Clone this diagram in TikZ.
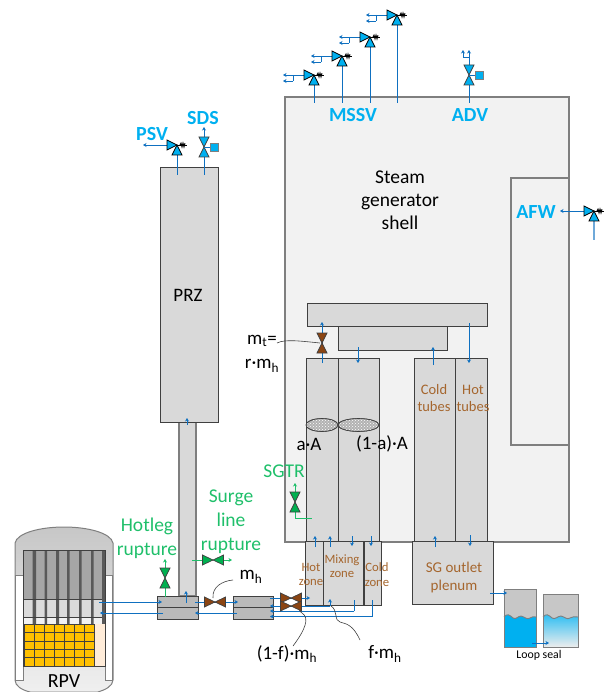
\documentclass[tikz,border=0pt]{standalone}
\usepackage{fontspec}
\setmainfont{Carlito}
\usetikzlibrary{arrows.meta,patterns,calc}
\definecolor{flow}{HTML}{0F70C0}
\definecolor{vblue}{HTML}{00B0F0}
\definecolor{vgreen}{HTML}{00B050}
\definecolor{tgreen}{HTML}{1FBF6A}
\definecolor{vbrown}{HTML}{8B4513}
\definecolor{tbrown}{HTML}{A5662E}
\definecolor{shellfill}{HTML}{F2F2F2}
\definecolor{boxfill}{HTML}{D9D9D9}
\definecolor{edgedark}{HTML}{404040}
\definecolor{edgegray}{HTML}{7F7F7F}
\definecolor{fuel}{HTML}{FFC000}
\tikzset{
  flowline/.style={draw=flow,line width=0.9pt},
  flowarr/.style={flowline,-{Stealth[length=3.5pt,width=4pt]}},
  greenarr/.style={draw=tgreen,line width=0.9pt,-{Stealth[length=3.5pt,width=4pt]}},
  greenline/.style={draw=tgreen,line width=0.9pt},
  graybox/.style={fill=boxfill,draw=edgedark,line width=0.8pt},
  legbox/.style={fill=black!27,draw=edgedark,line width=0.8pt},
  shellbox/.style={fill=shellfill,draw=edgegray,line width=1.1pt},
  lead/.style={draw=edgedark,line width=0.6pt},
  lbl/.style={inner sep=0pt,align=center,font=\fontsize{19}{23}\selectfont,text=black},
  blbl/.style={inner sep=0pt,font=\fontsize{20}{24}\selectfont\bfseries,text=vblue},
  glbl/.style={inner sep=0pt,align=center,font=\fontsize{19.5}{24}\selectfont,text=tgreen},
  zlbl/.style={inner sep=0pt,align=center,font=\fontsize{12.7}{14.5}\selectfont,text=tbrown},
  tube/.style={inner sep=0pt,align=center,font=\fontsize{14.5}{17}\selectfont,text=tbrown},
}
% vertical valve: center, colour
\newcommand{\vvalve}[2]{%
  \filldraw[fill=#2,draw=edgedark,line width=0.7pt] ($(#1)+(-5,-10)$)--($(#1)+(5,-10)$)--(#1)--cycle;
  \filldraw[fill=#2,draw=edgedark,line width=0.7pt] ($(#1)+(-5,10)$)--($(#1)+(5,10)$)--(#1)--cycle;}
\newcommand{\hvalve}[2]{%
  \filldraw[fill=#2,draw=edgedark,line width=0.7pt] ($(#1)+(-10.5,-5)$)--($(#1)+(-10.5,5)$)--(#1)--cycle;
  \filldraw[fill=#2,draw=edgedark,line width=0.7pt] ($(#1)+(10.5,-5)$)--($(#1)+(10.5,5)$)--(#1)--cycle;}
% safety valve: centre
\newcommand{\svalve}[1]{%
  \draw[black,line width=0.7pt] (#1)--($(#1)+(10,0)$);
  \draw[black,line width=1pt] ($(#1)+(3,0)$)--($(#1)+(4,-1.8)$)--($(#1)+(5,1.8)$)--($(#1)+(6,-1.8)$)--($(#1)+(7,1.8)$)--($(#1)+(8,-1.8)$);
  \filldraw[fill=vblue,draw=black,line width=0.7pt] ($(#1)+(-10,-5)$)--($(#1)+(-10,5)$)--(#1)--cycle;
  \filldraw[fill=vblue,draw=black,line width=0.7pt] ($(#1)+(-5,10)$)--($(#1)+(5,10)$)--(#1)--cycle;}
\newcommand{\mssv}[1]{%
  \coordinate (vc) at (#1);
  \coordinate (stemy) at (0,103);
  \draw[flowline] ($(#1)+(0,10)$)--(vc|-stemy);
  \draw[flowarr] ($(#1)+(-10,0)$)--($(#1)+(-31,0)$);
  \draw[flowline] ($(#1)+(-21,0)$)--($(#1)+(-21,6)$);
  \draw[flowarr] ($(#1)+(-21,6)$)--($(#1)+(-31,6)$);
  \svalve{#1}}
\begin{document}
\begin{tikzpicture}[x=1pt,y=-1pt]
\useasboundingbox (0,0) rectangle (604,692);
% ---------- Steam generator
\draw[shellbox] (285,97) rectangle (569,542);
\draw[shellbox] (511,178) rectangle (569,445);
\draw[graybox] (307,303) rectangle (487,326.5);
\draw[graybox] (338,326.5) rectangle (447,350);
\draw[graybox] (306,358) rectangle (338,541);
\draw[graybox] (338,358) rectangle (379,541);
\draw[graybox] (414,358) rectangle (455,541);
\draw[graybox] (455,358) rectangle (487,541);
\draw[fill=black!30,draw=edgedark,line width=0.6pt] (322,425) ellipse (16 and 6.5);
\draw[pattern=crosshatch dots,pattern color=white,draw=edgedark,line width=0.6pt] (322,425) ellipse (16 and 6.5);
\draw[fill=black!30,draw=edgedark,line width=0.6pt] (358.5,425) ellipse (20.5 and 6.5);
\draw[pattern=crosshatch dots,pattern color=white,draw=edgedark,line width=0.6pt] (358.5,425) ellipse (20.5 and 6.5);
% ---------- Zones and plenum
\draw[graybox] (305,541) rectangle (323,605);
\draw[graybox] (323,541) rectangle (363,605);
\draw[graybox] (364,541) rectangle (381,605);
\draw[graybox] (412,541) rectangle (493,604);
% ---------- PRZ and surge line
\draw[fill=boxfill,draw=edgegray,line width=1.2pt] (179,422) rectangle (196,596);
\draw[graybox] (160,167) rectangle (218,422);
\draw[legbox] (157,596) rectangle (198,619);
\draw[edgedark,line width=0.8pt] (157,607.5)--(198,607.5);
\draw[legbox] (233,596) rectangle (273,619);
\draw[edgedark,line width=0.8pt] (233,607.5)--(273,607.5);
% ---------- RPV
\path[draw=edgegray,line width=1pt,top color=black!22,bottom color=black!6]
  (15,680) -- (15,543) .. controls (17,533) and (40,527) .. (64,527) .. controls (88,527) and (111,533) .. (113,543)
  -- (113,680) .. controls (113,686) and (105,690) .. (98,692) -- (30,692) .. controls (22,690) and (15,686) .. (15,680) -- cycle;
\draw[fill=white,draw=edgegray,line width=0.8pt] (15.5,575) rectangle (23,680);
\draw[fill=white,draw=edgegray,line width=0.8pt] (105,575) rectangle (112.5,680);
\fill[black!35] (23,550) rectangle (105,599);
\fill[black!14] (23,599) rectangle (105,617);
\fill[black!5] (23,617) rectangle (105,624);
\fill[black!65] (32.5,550) rectangle (36,624) (44.5,550) rectangle (47,624) (56,550) rectangle (59,624)
  (67,550) rectangle (69.5,624) (79,550) rectangle (81.5,624) (91,550) rectangle (93.5,624);
\draw[edgedark,line width=0.6pt] (23,599)--(105,599) (23,617)--(105,617);
\fill[black!65] (102,550) rectangle (105,624);
\fill[orange!15] (94,624) rectangle (105,666);
\foreach \i in {0,...,6}\foreach \j in {0,...,4}{
  \draw[fill=fuel,draw=edgedark,line width=0.6pt] ({24+10*\i},{624+8.4*\j}) rectangle ({34+10*\i},{632.4+8.4*\j});}
\draw[edgedark,line width=1pt] (23,550) rectangle (105,666);
\node[lbl,font=\fontsize{20}{22}\selectfont] (rpv) at (64,681) {RPV};
% ---------- Loop seal
\draw[fill=black!22,draw=edgegray,line width=1pt] (504,589) rectangle (536,647);
\fill[vblue] (504,617) .. controls (507,613) and (510,615) .. (513,618) .. controls (516,620) and (518,616) .. (521,616)
  .. controls (525,617) and (527,620) .. (530,618) .. controls (532,616) and (534,617) .. (536,617) -- (536,647) -- (504,647) -- cycle;
\draw[edgegray,line width=0.9pt] (504,617) .. controls (507,613) and (510,615) .. (513,618) .. controls (516,620) and (518,616) .. (521,616)
  .. controls (525,617) and (527,620) .. (530,618) .. controls (532,616) and (534,617) .. (536,617);
\draw[edgegray,line width=1pt] (504,589) rectangle (536,647);
\draw[fill=black!22,draw=edgegray,line width=1pt] (543,594) rectangle (578,647);
\path[top color=vblue!85,bottom color=black!7] (543,617) .. controls (546,613) and (549,615) .. (552,618) .. controls (555,620) and (558,616) .. (561,616)
  .. controls (565,617) and (567,620) .. (570,618) .. controls (572,616) and (575,617) .. (578,617) -- (578,647) -- (543,647) -- cycle;
\draw[edgegray,line width=0.9pt] (543,617) .. controls (546,613) and (549,615) .. (552,618) .. controls (555,620) and (558,616) .. (561,616)
  .. controls (565,617) and (567,620) .. (570,618) .. controls (572,616) and (575,617) .. (578,617);
\draw[edgegray,line width=1pt] (543,594) rectangle (578,647);
% ---------- Flow arrows: SG
\draw[flowarr] (322,363)--(322,322);
\draw[flowarr] (358,347)--(358,363);
\draw[flowarr] (433,365)--(433,347);
\draw[flowarr] (469,323)--(469,363);
\draw[flowarr] (315,547)--(315,536);
\draw[flowarr] (330,547)--(330,536);
\draw[flowarr] (352,536)--(352,546);
\draw[flowarr] (371,536)--(371,546);
\draw[flowarr] (435,547)--(435,536);
\draw[flowarr] (470,535)--(470,546);
\draw[flowarr] (490,593)--(507,593);
\draw[flowarr] (532,643)--(549,643);
\draw[flowarr] (187,425)--(187,418);
\draw[flowarr] (186,603)--(186,591);
% ---------- Flow arrows: loop piping
\draw[flowarr] (99,602)--(162,602);
\draw[flowarr] (163,613)--(100,613);
\draw[flowarr] (195,602)--(238,602);
\draw[flowarr] (237,613)--(195,613);
\draw[flowarr] (270,598)--(310,598);
\draw[flowarr] (330,606)--(270,606);
\draw[flowarr] (330,606)--(330,599);
\draw[flowarr] (354,611)--(270,611);
\draw[flowline] (354,611)--(354,600);
\draw[flowarr] (372,600)--(372,616.5)--(270,616.5);
% ---------- Leader lines
\draw[lead] (233,580) .. controls (222,581) and (212,587) .. (213,598);
\draw[lead] (293,646) .. controls (305,630) and (310,618) .. (302,613) .. controls (298,611) and (300,607) .. (297,603);
\draw[lead] (360,640) .. controls (353,625) and (347,624) .. (340,622) .. controls (334,621) and (338,610) .. (331,606);
\draw[lead] (277,343) .. controls (285,339) and (300,341) .. (320,343);
% ---------- Brown valves
\hvalve{215,602}{vbrown}
\hvalve{291,598}{vbrown}
\hvalve{291,606}{vbrown}
\vvalve{322,343}{vbrown}
% ---------- Steam relief valves
\mssv{397,15}
\mssv{370,37}
\mssv{342,56}
\mssv{314,75}
\draw[flowline] (469,85)--(469,103);
\draw[flowline] (469,65)--(469,57)--(463,57);
\draw[flowarr] (469,57)--(469,50);
\draw[flowarr] (463,57)--(463,50);
\vvalve{469,75}{vblue}
\draw[fill=vblue,draw=edgegray,line width=0.8pt] (475,71) rectangle (483,79);
\draw[flowline] (469,75)--(475,75);
% PSV, SDS
\draw[flowline] (177,155)--(177,175);
\draw[flowarr] (167,145)--(143,145);
\svalve{177,145}
\draw[flowline] (204,157)--(204,175);
\draw[flowarr] (204,137)--(204,127);
\vvalve{204,147}{vblue}
\draw[flowline] (204,147)--(210,147);
\draw[fill=vblue,draw=edgegray,line width=0.8pt] (210,143) rectangle (218,151);
% AFW
\draw[draw=flow!60!white,line width=1.1pt] (594,221)--(594,240);
\draw[flowarr] (584,211)--(560,211);
\svalve{594,211}
% ---------- Rupture valves
\draw[greenarr] (295,492)--(295,483);
\draw[greenline] (295,512)--(295,518)--(312,518);
\vvalve{295,502}{vgreen}
\draw[greenarr] (165,568)--(165,559);
\draw[greenline] (165,588)--(165,597);
\vvalve{165,578}{vgreen}
\draw[greenline] (192,560)--(203,560);
\draw[greenarr] (223,560)--(232,560);
\hvalve{213,560}{vgreen}
% ---------- Labels
\node[blbl] (psv) at (152,134) {PSV};
\node[blbl] (sds) at (203,118) {SDS};
\node[blbl] (mssv) at (353,115) {MSSV};
\node[blbl] (adv) at (470,115) {ADV};
\node[blbl] (afw) at (536,212) {AFW};
\node[lbl] (prz) at (188,295) {PRZ};
\node[lbl,font=\fontsize{19.5}{23}\selectfont] (sgs) at (400,200) {Steam\\generator\\shell};
\node[lbl] (mt) at (262,341) {m\textsubscript{t}=};
\node[lbl] (rm) at (262,366) {r·m\textsubscript{h}};
\node[lbl] (aa) at (309,444) {a·A};
\node[lbl] (oa) at (382,444) {(1-a)·A};
\node[tube] (ct) at (434,398.5) {Cold\\tubes};
\node[tube] (ht) at (473,398.5) {Hot\\tubes};
\node[zlbl] (hz) at (311,574.5) {Hot\\zone};
\node[zlbl] (mz) at (342,566) {Mixing\\zone};
\node[zlbl] (cz) at (377,574.5) {Cold\\zone};
\node[tube,font=\fontsize{15}{18}\selectfont] (pl) at (454,577) {SG outlet\\plenum};
\node[lbl,font=\fontsize{11.8}{13}\selectfont] (ls) at (539,655.5) {Loop seal};
\node[lbl] (mh) at (251,577) {m\textsubscript{h}};
\node[lbl] (fm1) at (287,654) {(1-f)·m\textsubscript{h}};
\node[lbl] (fm) at (385,654) {f·m\textsubscript{h}};
\node[glbl] (sgtr) at (284,471) {SGTR};
\node[glbl] (hr) at (147,538) {Hotleg\\rupture};
\node[glbl] (sr) at (231,522) {Surge\\line\\rupture};
\end{tikzpicture}
\end{document}
